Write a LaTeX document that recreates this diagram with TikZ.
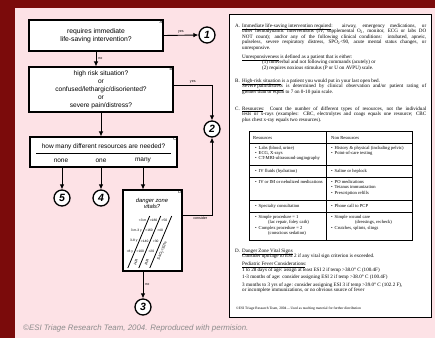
\documentclass[tikz,border=0pt]{standalone}
\usepackage{fontspec}
\setmainfont{Liberation Sans}
\newfontfamily\rserif{Liberation Serif}
\usetikzlibrary{arrows.meta}
\definecolor{bgred}{HTML}{7B0B0B}
\definecolor{bgpink}{HTML}{FDE2E6}
\definecolor{copygray}{HTML}{8C8C8C}
\newcommand{\fl}[1]{\makebox[184pt][s]{#1}}
\begin{document}
\begin{tikzpicture}[x=1pt,y=-1pt,
  box/.style={draw, line width=1.1pt, fill=white, inner sep=0pt, align=center, font=\fontsize{6.8}{8.4}\selectfont},
  tag/.style={anchor=north east, inner sep=1pt, font=\fontsize{4}{4}\selectfont},
  circ/.style={circle, draw, line width=1.3pt, fill=white, minimum size=16pt, inner sep=0pt, font=\fontsize{10.5}{10.5}\selectfont\bfseries\itshape},
  arr/.style={line width=0.9pt, -{Latex[length=5pt,width=4.6pt]}},
  lbl/.style={inner sep=0.5pt, font=\fontsize{3.6}{4}\selectfont},
  ptxt/.style={anchor=base west, inner sep=0pt, font=\rserif\fontsize{5.1}{5.5}\selectfont},
  ttxt/.style={anchor=base west, inner sep=0pt, font=\rserif\fontsize{4.6}{5}\selectfont},
  vt/.style={inner sep=0pt, font=\fontsize{3.3}{3.5}\selectfont},
  grid/.style={line width=0.7pt}]
\useasboundingbox (0,0) rectangle (435,338);
\fill[bgred] (0,0) rectangle (435,338);
\fill[bgpink] (15,8) rectangle (435,338);

% ---------- flowchart ----------
\node[box, minimum width=134pt, minimum height=31pt] (A) at (96,35.5) {requires immediate\\life-saving intervention?};
\node[tag] (Atag) at (A.north east) {A};
\node[box, minimum width=144pt, minimum height=45pt, font=\fontsize{6.6}{7.9}\selectfont] (B) at (101,89.5) {high risk situation?\\or\\confused/lethargic/disoriented?\\or\\severe pain/distress?};
\node[tag] (Btag) at (B.north east) {B};
\node[box, minimum width=147pt, minimum height=30pt] (C) at (103.5,152) {};
\node[tag] (Ctag) at (C.north east) {C};
\node[inner sep=0pt, font=\fontsize{6.5}{7}\selectfont] (Cq) at (103.5,146.5) {how many different resources are needed?};
\draw[line width=0.8pt] (36,153.5) -- (171,153.5);
\node[inner sep=0pt, font=\fontsize{6.5}{7}\selectfont] (none) at (61,160.5) {none};
\node[inner sep=0pt, font=\fontsize{6.5}{7}\selectfont] (one) at (101,160.5) {one};
\node[inner sep=0pt, font=\fontsize{6.5}{7}\selectfont] (many) at (143,160.5) {many};
\node[box, minimum width=59pt, minimum height=81pt] (D) at (152.5,230.5) {};
\node[tag] (Dtag) at (D.north east) {D};
\node[inner sep=0pt, align=center, font=\fontsize{5.8}{6.6}\selectfont\itshape] (Dq) at (152,203.5) {danger zone\\vitals?};

% danger zone table
\draw[line width=0.8pt] (149.7,216) -- (127.8,268);
\draw[line width=0.8pt] (160.7,216) -- (138.8,268);
\draw[line width=0.8pt] (171.7,216) -- (149.8,268);
\node[vt, anchor=east] (r1a) at (146.5,220) {<3 m};
\node[vt, anchor=east] (r2a) at (142.1,230.5) {3 m-3 y};
\node[vt, anchor=east] (r3a) at (137.7,241) {3-8 y};
\node[vt, anchor=east] (r4a) at (133.3,251.5) {>8 y};
\node[vt] (r1h) at (153.5,220) {>180};
\node[vt] (r2h) at (149.1,230.5) {>160};
\node[vt] (r3h) at (144.7,241) {>140};
\node[vt] (r4h) at (140.3,251.5) {>100};
\node[vt] (r1r) at (164.5,220) {>50};
\node[vt] (r2r) at (160.1,230.5) {>40};
\node[vt] (r3r) at (155.7,241) {>30};
\node[vt] (r4r) at (151.3,251.5) {>20};
\node[vt, rotate=67, font=\fontsize{3.8}{4}\selectfont] (hr) at (136,262) {HR};
\node[vt, rotate=67, font=\fontsize{3.8}{4}\selectfont] (rr) at (147,262) {RR};
\node[vt, rotate=67, font=\fontsize{3.8}{4}\selectfont] (sao) at (162.5,251) {SaO\textsubscript{2}<92\%};

% circles
\node[circ] (c1) at (207,35) {1};
\node[circ] (c2) at (212,129) {2};
\node[circ] (c5) at (62,198) {5};
\node[circ] (c4) at (101,198) {4};
\node[circ] (c3) at (143,307) {3};

% connectors
\draw[arr] (A.east) -- (c1.west) node[lbl, midway, above=1pt] (yA) {yes};
\draw[arr] (A.south) -- (A.south |- B.north) node[lbl, midway, right=1.5pt] (nA) {no};
\draw[arr] ([yshift=4.5pt]B.east) -| (c2.north) node[lbl, pos=0.25, above=1pt] (yB) {yes};
\draw[arr] (B.south) -- (B.south |- C.north);
\draw[arr] (c5 |- C.south) -- (c5.north);
\draw[arr] (c4 |- C.south) -- (c4.north);
\draw[arr] ([xshift=-9.5pt]D.north |- C.south) -- ([xshift=-9.5pt]D.north);
\draw[arr] ([yshift=15.5pt]D.east) -| (c2.south) node[lbl, pos=0.3, below=1pt] (cons) {consider};
\draw[arr] ([xshift=-9.5pt]D.south) -- (c3.north) node[lbl, midway, right=1.5pt] (nD) {no};

\node[anchor=base west, inner sep=0pt, text=copygray, font=\fontsize{7.9}{8}\selectfont\itshape] (copy) at (23,330) {©ESI Triage Research Team, 2004. Reproduced with permision.};

% ---------- right panel ----------
\node[draw, line width=0.8pt, fill=white, minimum width=202pt, minimum height=303pt, inner sep=0pt] (panel) at (330,165.5) {};

\node[ptxt] (pa) at (235,27) {A.};
\node[ptxt] (pa1) at (242,27) {\fl{\underline{Immediate life-saving intervention required}: airway, emergency medications, or}};
\node[ptxt] (pa2) at (242,32.5) {\fl{other hemodynamic interventions (IV, supplemental O\textsubscript{2}, monitor, ECG or labs DO}};
\node[ptxt] (pa3) at (242,38) {\fl{NOT count); and/or any of the following clinical conditions: intubated, apneic,}};
\node[ptxt] (pa4) at (242,43.5) {\fl{pulseless, severe respiratory distress, SPO\textsubscript{2}<90, acute mental status changes, or}};
\node[ptxt] (pa5) at (242,49) {unresponsive.};
\node[ptxt] (pu1) at (242,58) {\underline{Unresponsiveness} is defined as a patient that is either:};
\node[ptxt] (pu2) at (262,63.5) {(1) nonverbal and not following commands (acutely) or};
\node[ptxt] (pu3) at (262,69) {(2) requires noxious stimulus (P or U on AVPU) scale.};

\node[ptxt] (pb) at (235,82) {B.};
\node[ptxt] (pb1) at (242,82) {\underline{High-risk situation} is a patient you would put in your last open bed.};
\node[ptxt] (pb2) at (242,87.5) {\fl{\underline{Severe pain/distress} is determined by clinical observation and/or patient rating of}};
\node[ptxt] (pb3) at (242,93) {greater than or equal to 7 on 0-10 pain scale.};

\node[ptxt] (pc) at (235,110) {C.};
\node[ptxt] (pc1) at (242,110) {\fl{\underline{Resources}: Count the number of different types of resources, not the individual}};
\node[ptxt] (pc2) at (242,115.5) {\fl{tests or x-rays (examples: CBC, electrolytes and coags equals one resource; CBC}};
\node[ptxt] (pc3) at (242,121) {plus chest x-ray equals two resources).};

% table
\draw[grid] (249,131) rectangle (412,240);
\draw[grid] (326,131) -- (326,240);
\draw[grid] (249,143) -- (412,143);
\draw[grid] (249,165) -- (412,165);
\draw[grid] (249,177) -- (412,177);
\draw[grid] (249,200) -- (412,200);
\draw[grid] (249,212) -- (412,212);
\node[ttxt] (th1) at (253,139.5) {Resources};
\node[ttxt] (th2) at (331,139.5) {Non Resources};
\node[ttxt] (t11) at (255,149) {•\, Labs (blood, urine)};
\node[ttxt] (t12) at (255,154) {•\, ECG, X-rays};
\node[ttxt] (t13) at (255,159) {•\, CT-MRI-ultrasound-angiography};
\node[ttxt] (t14) at (331,149) {•\, History \& physical (including pelvic)};
\node[ttxt] (t15) at (331,154) {•\, Point-of-care testing};
\node[ttxt] (t21) at (255,172.5) {•\, IV fluids (hydration)};
\node[ttxt] (t22) at (331,172.5) {•\, Saline or heplock};
\node[ttxt] (t31) at (255,183) {•\, IV or IM or nebulized medications};
\node[ttxt] (t32) at (331,183) {•\, PO medications};
\node[ttxt] (t33) at (331,188.5) {•\, Tetanus immunization};
\node[ttxt] (t34) at (331,194) {•\, Prescription refills};
\node[ttxt] (t41) at (255,207.5) {•\, Specialty consultation};
\node[ttxt] (t42) at (331,207.5) {•\, Phone call to PCP};
\node[ttxt] (t51) at (255,218.5) {•\, Simple procedure = 1};
\node[ttxt] (t52) at (268,223.5) {(lac repair, foley cath)};
\node[ttxt] (t53) at (255,229) {•\, Complex procedure = 2};
\node[ttxt] (t54) at (268,234) {(conscious sedation)};
\node[ttxt] (t55) at (331,218.5) {•\, Simple wound care};
\node[ttxt] (t56) at (355,223.5) {(dressings, recheck)};
\node[ttxt] (t57) at (331,229) {•\, Crutches, splints, slings};

\node[ptxt] (pd) at (235,252) {D.};
\node[ptxt] (pd1) at (242,252) {\underline{Danger Zone Vital Signs}};
\node[ptxt] (pd2) at (242,257.5) {Consider uptriage to ESI 2 if any vital sign criterion is exceeded.};
\node[ptxt] (pd3) at (242,265.5) {\underline{Pediatric Fever Considerations}:};
\node[ptxt] (pd4) at (242,271) {1 to 28 days of age: assign at least ESI 2 if temp >38.0° C (100.4F)};
\node[ptxt] (pd5) at (242,278.5) {1-3 months of age: consider assigning ESI 2 if temp >38.0° C (100.4F)};
\node[ptxt] (pd6) at (242,286) {3 months to 3 yrs of age: consider assigning ESI 3 if temp >39.0° C (102.2 F),};
\node[ptxt] (pd7) at (242,291.5) {or incomplete immunizations, or no obvious source of fever};
\node[ptxt, font=\rserif\fontsize{3.6}{4}\selectfont] (pf) at (236,309) {©ESI Triage Research Team, 2004 -- Used as teaching material for further distribution};
\end{tikzpicture}
\end{document}
